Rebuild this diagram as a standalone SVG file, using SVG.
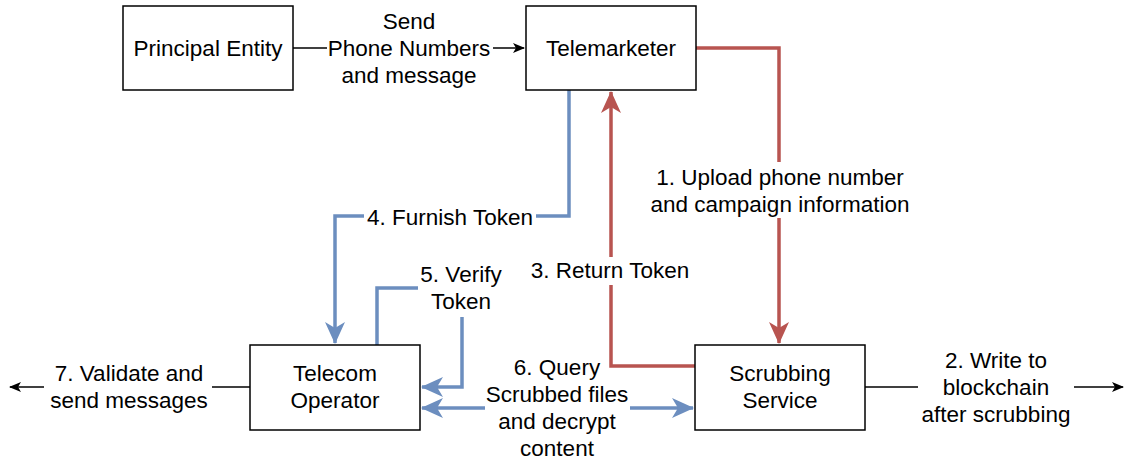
<svg xmlns="http://www.w3.org/2000/svg" width="1133" height="462" viewBox="0 0 1133 462">
<style>
.box{fill:#fff;stroke:#000;stroke-width:1.5}
text{font-family:"Liberation Sans",Arial,sans-serif;font-size:22.5px;fill:#000;text-anchor:middle}
.red{fill:none;stroke:#b85450;stroke-width:3.5}
.blue{fill:none;stroke:#6c8ebf;stroke-width:3.5}
.blk{fill:none;stroke:#000;stroke-width:1.5}
.bg{fill:#fff}
</style>
<defs>
<marker id="ar" viewBox="0 0 22 20" refX="21" refY="10" markerWidth="22" markerHeight="20" markerUnits="userSpaceOnUse" orient="auto-start-reverse"><path d="M22,10 L0,0 L6,10 L0,20 Z" fill="#b85450"/></marker>
<marker id="ab" viewBox="0 0 22 20" refX="21" refY="10" markerWidth="22" markerHeight="20" markerUnits="userSpaceOnUse" orient="auto-start-reverse"><path d="M22,10 L0,0 L6,10 L0,20 Z" fill="#6c8ebf"/></marker>
<marker id="ak" viewBox="0 0 12 10" refX="11" refY="5" markerWidth="12" markerHeight="10" markerUnits="userSpaceOnUse" orient="auto-start-reverse"><path d="M12,5 L0,0 L3,5 L0,10 Z" fill="#000"/></marker>
</defs>
<g id="connectors">
<path class="blk" d="M293,48 H524" marker-end="url(#ak)"/>
<path class="red" d="M696,48 H779 V343" marker-end="url(#ar)"/>
<path class="red" d="M695,366 H611 V92" marker-end="url(#ar)"/>
<path class="blue" d="M569,90 V216 H335 V343" marker-end="url(#ab)"/>
<path class="blue" d="M377,345 V288 H462 V387 H422" marker-end="url(#ab)"/>
<path class="blue" d="M422,408 H693" marker-start="url(#ab)" marker-end="url(#ab)"/>
<path class="blk" d="M250,387 H10" marker-end="url(#ak)"/>
<path class="blk" d="M865,387 H1123" marker-end="url(#ak)"/>
<rect class="bg" x="327" y="8" width="166" height="80"/>
<text x="409" y="29">Send</text>
<text x="409" y="56">Phone Numbers</text>
<text x="409" y="83">and message</text>
<rect class="bg" x="648" y="162" width="264" height="56"/>
<text x="780" y="185">1. Upload phone number</text>
<text x="780" y="212">and campaign information</text>
<rect class="bg" x="527" y="257" width="166" height="28"/>
<text x="610" y="278">3. Return Token</text>
<rect class="bg" x="364" y="203" width="172" height="28"/>
<text x="450" y="225">4. Furnish Token</text>
<rect class="bg" x="418" y="261" width="88" height="56"/>
<text x="461" y="282">5. Verify</text>
<text x="461" y="309">Token</text>
<rect class="bg" x="485" y="396" width="145" height="24"/>
<text x="557" y="375">6. Query</text>
<text x="557" y="402">Scrubbed files</text>
<text x="557" y="429">and decrypt</text>
<text x="557" y="456">content</text>
<rect class="bg" x="44" y="360" width="168" height="54"/>
<text x="129" y="381">7. Validate and</text>
<text x="129" y="408">send messages</text>
<rect class="bg" x="918" y="346" width="156" height="82"/>
<text x="996" y="368">2. Write to</text>
<text x="996" y="395">blockchain</text>
<text x="996" y="422">after scrubbing</text>
</g>
<g id="principal"><rect class="box" x="123" y="6" width="170" height="84"/><text x="208" y="56">Principal Entity</text></g>
<g id="telemarketer"><rect class="box" x="526" y="6" width="170" height="84"/><text x="611" y="56">Telemarketer</text></g>
<g id="telecom"><rect class="box" x="250" y="345" width="170" height="85"/><text x="335" y="381">Telecom</text><text x="335" y="408">Operator</text></g>
<g id="scrubbing"><rect class="box" x="695" y="345" width="170" height="85"/><text x="780" y="381">Scrubbing</text><text x="780" y="408">Service</text></g>
</svg>
